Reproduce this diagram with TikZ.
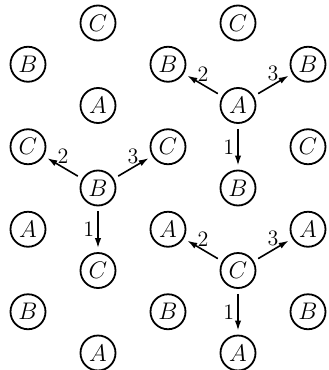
\documentclass[tikz,border=0pt]{standalone}
\usetikzlibrary{arrows.meta}
\begin{document}
\begin{tikzpicture}[x=1pt,y=1pt,
  st/.style={circle,draw,line width=0.9pt,minimum size=17.5pt,inner sep=0pt,font=\fontsize{11.5}{13}\selectfont},
  arr/.style={-{Latex[length=5pt,width=3.2pt]},line width=0.8pt,shorten <=2.5pt,shorten >=2pt},
  lab/.style={inner sep=1.5pt,font=\fontsize{11}{13}\selectfont}]
\useasboundingbox (0,0) rectangle (164,-185);
\foreach \j/\i/\l in {0/1/C,0/3/C,
  1/0/B,1/2/B,1/4/B,
  2/1/A,2/3/A,
  3/0/C,3/2/C,3/4/C,
  4/1/B,4/3/B,
  5/0/A,5/2/A,5/4/A,
  6/1/C,6/3/C,
  7/0/B,7/2/B,7/4/B,
  8/1/A,8/3/A}
  \node[st] (n\j\i) at ({14+35*\i},{-11.5-20.625*\j}) {$\l$};
\draw[arr] (n23) -- node[lab,above]{2} (n12);
\draw[arr] (n23) -- node[lab,above]{3} (n14);
\draw[arr] (n23) -- node[lab,left]{1} (n43);
\draw[arr] (n41) -- node[lab,above]{2} (n30);
\draw[arr] (n41) -- node[lab,above]{3} (n32);
\draw[arr] (n41) -- node[lab,left]{1} (n61);
\draw[arr] (n63) -- node[lab,above]{2} (n52);
\draw[arr] (n63) -- node[lab,above]{3} (n54);
\draw[arr] (n63) -- node[lab,left]{1} (n83);
\end{tikzpicture}
\end{document}
